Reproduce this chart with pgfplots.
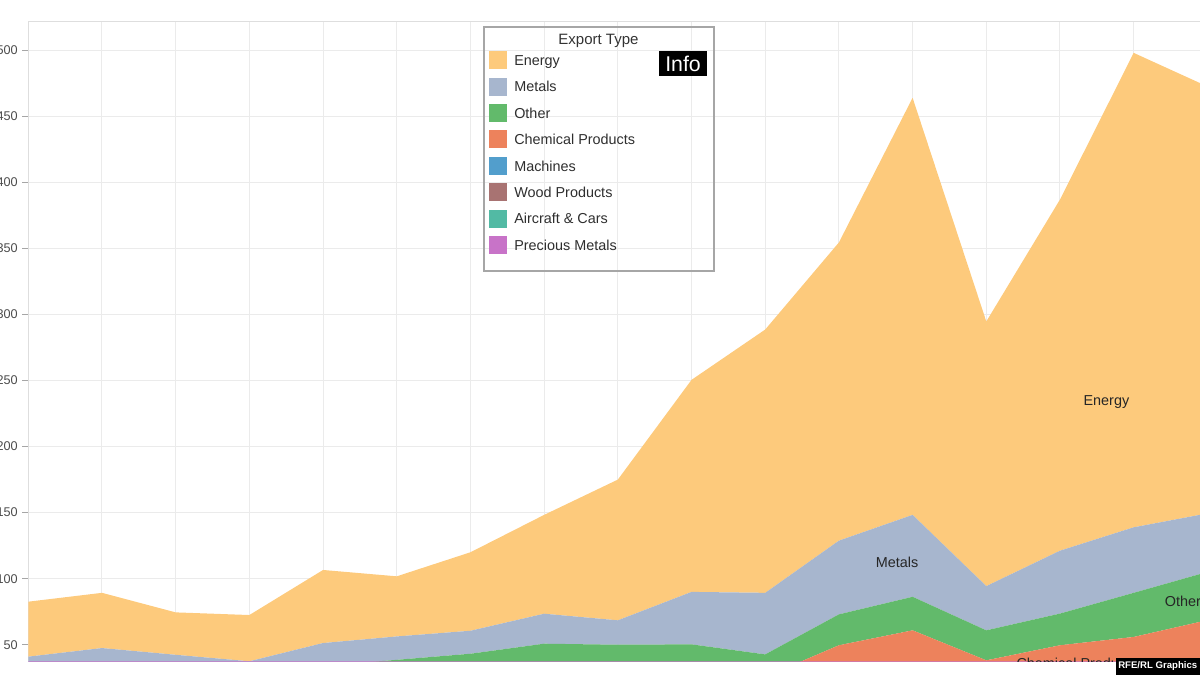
\documentclass[border=0pt]{standalone}
\usepackage{pgfplots}
\usepackage{pgfplotstable}
\pgfplotsset{compat=1.18}
\usepackage{fontspec}
\setmainfont{Liberation Sans}

\definecolor{cEnergy}{RGB}{253,202,124}
\definecolor{cMetals}{RGB}{167,182,206}
\definecolor{cOther}{RGB}{98,186,107}
\definecolor{cChem}{RGB}{237,130,92}
\definecolor{cMach}{RGB}{82,158,204}
\definecolor{cWood}{RGB}{168,115,114}
\definecolor{cAir}{RGB}{82,186,164}
\definecolor{cPrec}{RGB}{200,115,200}

\pgfplotstableread{
x  prec air  wood mach chem  other metals energy
0  1.0  1.5  2.5  3    10.0  12.0  11.0   41.6
1  1.0  1.5  2.5  3    11.0  13.0  15.5   41.8
2  0.8  1.2  2.0  3    10.0  14.0  11.4   32.1
3  0.8  1.2  2.0  3     9.0  14.0   7.5   35.0
4  1.0  1.5  2.5  3    10.0  16.0  17.3   55.3
5  1.0  1.5  2.5  4    11.0  18.6  17.7   45.5
6  1.0  2.0  3.0  4    11.0  22.2  17.4   59.4
7  1.3  2.2  3.5  4    12.0  27.8  22.7   74.8
8  1.3  2.2  3.5  5    12.0  26.0  18.5  106.5
9  1.5  2.5  4.0  6    14.0  22.3  39.7  160.5
10 1.5  2.5  4.0  5    12.7  17.0  46.6  199.3
11 2.0  4.0  5.0  7    31.6  23.4  55.8  225.7
12 2.5  4.5  6.0  9    38.9  25.4  62.0  315.7
13 2.0  3.0  4.0  6    23.2  22.7  33.5  200.3
14 2.0  4.0  5.0  7    31.6  24.0  47.6  265.8
15 2.0  4.0  6.0  8    35.9  33.4  49.6  359.1
16 2.5  4.5  6.0  9    46.6  36.5  44.3  323.2
}\exportsTbl

\begin{document}
\begin{tikzpicture}
\begin{axis}[
  name=ax, at={(0,0)}, anchor=south west,
  scale only axis, width=878.775pt, height=479.775pt,
  xmin=0, xmax=15.9, ymin=37.4, ymax=521.6,
  stack plots=y, area style,
  set layers, axis on top=false,
  xtick={0,...,16}, xticklabel=\empty,
  ytick={50,100,...,500}, ytick pos=left,
  grid=major, major grid style={draw=black!8, line width=0.75pt},
  axis line style={draw=black!13, line width=0.75pt},
  tick align=outside, major tick length=4.5pt,
  xtick style={draw=none},
  ytick style={draw=black!35, line width=0.75pt},
  yticklabel style={font=\fontsize{9.5}{10}\selectfont, text=black!70, inner sep=0pt, inner xsep=3.2pt},
  /pgf/number format/assume math mode=true,
  reverse legend, legend cell align=left,
  legend image code/.code={\fill[#1] (0pt,-6.75pt) rectangle (13.5pt,6.75pt);},
  legend style={at={(0.3932,0.9542)}, anchor=north west, draw=none, fill=none,
    inner sep=0pt, row sep=6.3pt, column sep=4.25pt,
    font=\fontsize{10.8}{12}\selectfont, text=black!82,
    nodes={inner sep=1pt, text depth=0pt}},
]
\addplot[fill=cPrec, draw=none] table[x=x, y=prec] {\exportsTbl} \closedcycle;
\addlegendentry{Precious Metals}
\addplot[fill=cAir, draw=none] table[x=x, y=air] {\exportsTbl} \closedcycle;
\addlegendentry{Aircraft \& Cars}
\addplot[fill=cWood, draw=none] table[x=x, y=wood] {\exportsTbl} \closedcycle;
\addlegendentry{Wood Products}
\addplot[fill=cMach, draw=none] table[x=x, y=mach] {\exportsTbl} \closedcycle;
\addlegendentry{Machines}
\addplot[fill=cChem, draw=none] table[x=x, y=chem] {\exportsTbl} \closedcycle;
\addlegendentry{Chemical Products}
\addplot[fill=cOther, draw=none] table[x=x, y=other] {\exportsTbl} \closedcycle;
\addlegendentry{Other}
\addplot[fill=cMetals, draw=none] table[x=x, y=metals] {\exportsTbl} \closedcycle;
\addlegendentry{Metals}
\addplot[fill=cEnergy, draw=none] table[x=x, y=energy] {\exportsTbl} \closedcycle;
\addlegendentry{Energy}

\draw[black!35, line width=1.5pt] (rel axis cs:0.3885,0.6103) rectangle (rel axis cs:0.5856,0.9917);
\node[font=\fontsize{11.25}{12}\selectfont, text=black!80] at (rel axis cs:0.4866,0.9707) {Export Type};
\node[fill=black, text=white, minimum width=36pt, minimum height=18.75pt, inner sep=0pt,
      font=\fontsize{16}{16}\selectfont] at (rel axis cs:0.5588,0.9347) {Info};
\end{axis}
\begin{scope}
\clip (ax.south west) rectangle (ax.north east);
\node[font=\fontsize{10.8}{12}\selectfont, text=black!85] at ([xshift=651.6pt, yshift=74.0pt]ax.south west) {Metals};
\node[font=\fontsize{10.8}{12}\selectfont, text=black!85] at ([xshift=808.6pt, yshift=194.6pt]ax.south west) {Energy};
\node[font=\fontsize{10.8}{12}\selectfont, text=black!85] at ([xshift=866.0pt, yshift=44.8pt]ax.south west) {Other};
\node[font=\fontsize{10.8}{12}\selectfont, text=black!85] at ([xshift=786.5pt, yshift=-1.4pt]ax.south west) {Chemical Products};
\end{scope}
\node[fill=black, text=white, anchor=south east, minimum width=63pt, minimum height=12.5pt,
      inner sep=0pt, font=\fontsize{7.2}{8}\selectfont\bfseries] at ([yshift=-10.2pt]ax.south east) {RFE/RL Graphics};
\pgfresetboundingbox
\path[use as bounding box] ([xshift=-21.225pt, yshift=-10.2pt]ax.south west) rectangle ([yshift=16.275pt]ax.north east);
\end{tikzpicture}
\end{document}
